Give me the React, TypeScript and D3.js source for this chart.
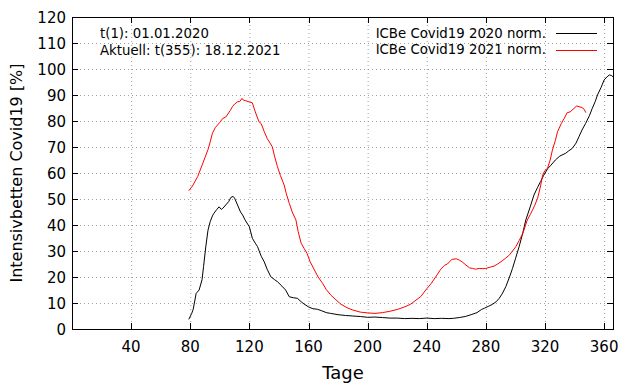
import React, { useEffect, useRef } from "react";
import * as d3 from "d3";

const days2020 = [79, 81, 82, 84, 86, 88, 89, 90.5, 92, 93.5, 95, 96, 98, 99.5, 101, 102, 104, 106, 107.5, 109, 110, 112, 114, 115.5, 117, 120, 122, 124, 125.5, 128, 130, 132, 134.5, 137, 139, 142, 144.5, 147, 150, 152.5, 155, 157, 160, 163, 166, 169, 172, 175, 180, 185, 190, 195, 200, 205, 210, 215, 220, 225, 230, 235, 240, 245, 250, 255, 258, 262, 266, 270, 274, 277, 279, 282, 284.5, 287, 289, 291, 293.5, 296, 298, 300, 302.5, 305, 307, 310, 312.5, 315, 317, 319, 322, 324, 327, 330, 334, 336, 338.5, 341, 343, 345, 347.5, 350, 352, 354, 355.5, 358, 360, 362, 363.5, 365, 366];
const vals2020 = [3.7, 6, 7.6, 13.7, 15, 19, 24, 31.6, 38, 41.3, 43.5, 44.5, 46, 47, 46, 46.4, 47.7, 49, 50.6, 51, 50.3, 47.7, 45, 43.8, 42, 39.3, 34.9, 33, 31.7, 28, 25.9, 23, 20.1, 19, 18.2, 16.5, 15, 12.4, 12, 11.8, 10.5, 9.6, 8.5, 7.8, 7.6, 7, 6.3, 6, 5.5, 5.2, 5, 4.8, 4.5, 4.6, 4.4, 4.2, 4.2, 4, 4.1, 4, 4.2, 4, 4.1, 4, 4.1, 4.4, 4.8, 5.5, 6.3, 7.5, 8, 8.8, 9.5, 10.5, 11.8, 13.5, 16.3, 20, 23.3, 27, 31.7, 37, 41.9, 47, 51.5, 54.5, 56.7, 59, 61.8, 63, 65, 66.5, 67.6, 68.5, 69.5, 71.5, 74, 76.5, 79.1, 82, 84.9, 87.5, 90, 93, 95.8, 97, 97.7, 97.5, 97];

const days2021 = [79, 81.5, 85, 88, 90, 92, 93.5, 95, 97, 98.5, 100, 102, 104, 105, 107, 108.5, 110, 112, 113.5, 115, 116, 117.5, 120, 122, 124, 126.5, 128, 130, 132, 134, 135.5, 137, 139, 141, 143.5, 145, 147, 149, 151.5, 153, 155, 157, 159, 161, 164, 166.5, 169.5, 172, 175, 178, 182, 186, 190, 195, 200, 205, 210, 215, 220, 225, 229, 232, 236, 240, 243, 246, 249.5, 252, 254, 257, 260, 262, 264, 266.5, 269, 271, 273, 275.5, 278, 280, 283, 285.5, 288, 291, 293.5, 296, 298, 300.3, 302.5, 305, 308, 310, 311.6, 313, 315, 317, 318.4, 320, 321.7, 323.5, 325, 327, 328.5, 331, 333, 335, 337, 339.7, 341.5, 343, 345, 346.5, 347.6];
const vals2021 = [53.2, 55, 58.6, 63, 66, 69, 72, 75.3, 77.5, 78.5, 79.5, 81, 81.5, 82.3, 84, 85.5, 86.5, 87.4, 87.5, 88.7, 88, 87.8, 87.3, 87, 83.5, 79.7, 79, 76, 73.3, 71.5, 70.1, 66.5, 62.4, 59, 55.4, 52, 48.3, 45, 41.9, 37.5, 33, 31, 29.1, 26, 22.7, 20, 17.6, 15.2, 13.1, 11.5, 9.5, 8.2, 7.3, 6.5, 6.2, 6, 6.3, 6.8, 7.5, 8.5, 9.5, 10.8, 12.5, 15.5, 17.5, 20, 23, 24.5, 25, 26.8, 27, 26.5, 25.8, 24.6, 23.5, 23.3, 23, 23.3, 23.2, 23.3, 23.8, 24.2, 25, 26.2, 27.3, 28.5, 30, 31.7, 34, 36.8, 41.9, 44, 45.8, 47.5, 50.3, 55, 59.2, 61, 61.8, 65, 68.8, 72.5, 75.9, 79, 81, 83.2, 83.5, 84.9, 85.8, 85.5, 85.2, 84.5, 83.2];

const xTicks = [40, 80, 120, 160, 200, 240, 280, 320, 360];
const yTicks = [0, 10, 20, 30, 40, 50, 60, 70, 80, 90, 100, 110, 120];
const legendLabels = ["ICBe Covid19 2020 norm.", "ICBe Covid19 2021 norm."];
const infoLines = ["t(1): 01.01.2020", "Aktuell: t(355): 18.12.2021"];

export default function App() {
  const ref = useRef<SVGSVGElement>(null);

  useEffect(() => {
    const svg = d3.select(ref.current);
    svg.selectAll("*").remove();
    const font = "DejaVu Sans, sans-serif";
    const left = 72, right = 613, top = 17, bottom = 329;

    const x = d3.scaleLinear().domain([0, 366]).range([left, right]);
    const y = d3.scaleLinear().domain([0, 120]).range([bottom, top]);

    // grid
    const grid = svg.append("g").attr("stroke", "#a0a0a0").attr("stroke-dasharray", "1,3");
    xTicks.forEach((t) => {
      grid.append("line").attr("x1", x(t) + 0.5).attr("x2", x(t) + 0.5).attr("y1", top).attr("y2", bottom);
    });
    yTicks.slice(1, -1).forEach((t) => {
      grid.append("line").attr("y1", Math.round(y(t)) + 0.5).attr("y2", Math.round(y(t)) + 0.5).attr("x1", left).attr("x2", right);
    });

    // ticks (inward, mirrored)
    const ticks = svg.append("g").attr("stroke", "black");
    xTicks.forEach((t) => {
      const px = Math.round(x(t)) + 0.5;
      ticks.append("line").attr("x1", px).attr("x2", px).attr("y1", bottom).attr("y2", bottom - 6);
      ticks.append("line").attr("x1", px).attr("x2", px).attr("y1", top).attr("y2", top + 6);
    });
    yTicks.forEach((t) => {
      const py = Math.round(y(t)) + 0.5;
      ticks.append("line").attr("x1", left).attr("x2", left + 6).attr("y1", py).attr("y2", py);
      ticks.append("line").attr("x1", right).attr("x2", right - 6).attr("y1", py).attr("y2", py);
    });

    // tick labels
    svg.append("g").selectAll("text").data(xTicks).join("text")
      .attr("x", (d) => x(d)).attr("y", 352)
      .attr("text-anchor", "middle").attr("font-family", font).attr("font-size", 15)
      .text((d) => d);
    svg.append("g").selectAll("text").data(yTicks).join("text")
      .attr("x", 66).attr("y", (d) => y(d) + 5.5)
      .attr("text-anchor", "end").attr("font-family", font).attr("font-size", 15)
      .text((d) => d);

    // lines
    const line = d3.line<[number, number]>().x((d) => x(d[0])).y((d) => y(d[1]));
    const s2020 = days2020.map((d, i) => [d, vals2020[i]] as [number, number]);
    const s2021 = days2021.map((d, i) => [d, vals2021[i]] as [number, number]);
    svg.append("path").attr("d", line(s2020)).attr("fill", "none").attr("stroke", "black").attr("stroke-width", 1);
    svg.append("path").attr("d", line(s2021)).attr("fill", "none").attr("stroke", "red").attr("stroke-width", 1);

    // frame
    svg.append("rect").attr("x", left + 0.5).attr("y", top + 0.5)
      .attr("width", right - left).attr("height", bottom - top)
      .attr("fill", "none").attr("stroke", "black");

    // info text
    infoLines.forEach((t, i) => {
      svg.append("text").attr("x", 100).attr("y", 38 + i * 16.5)
        .attr("font-family", font).attr("font-size", 13.3).text(t);
    });

    // legend
    const colors = ["black", "red"];
    legendLabels.forEach((t, i) => {
      const ly = 33 + i * 16.5;
      svg.append("text").attr("x", 546).attr("y", ly + 4.5).attr("text-anchor", "end")
        .attr("font-family", font).attr("font-size", 13.3).text(t);
      svg.append("line").attr("x1", 556).attr("x2", 597).attr("y1", Math.round(ly) + 0.5).attr("y2", Math.round(ly) + 0.5)
        .attr("stroke", colors[i]);
    });

    // axis titles
    svg.append("text").attr("x", 343).attr("y", 379).attr("text-anchor", "middle")
      .attr("font-family", font).attr("font-size", 18).text("Tage");
    svg.append("text").attr("transform", "translate(22,173) rotate(-90)").attr("text-anchor", "middle")
      .attr("font-family", font).attr("font-size", 16).text("Intensivbetten Covid19 [%]");
  }, []);

  return (
    <svg ref={ref} width={640} height={384}
      style={{ position: "absolute", left: 0, top: 0, background: "white" }} />
  );
}
